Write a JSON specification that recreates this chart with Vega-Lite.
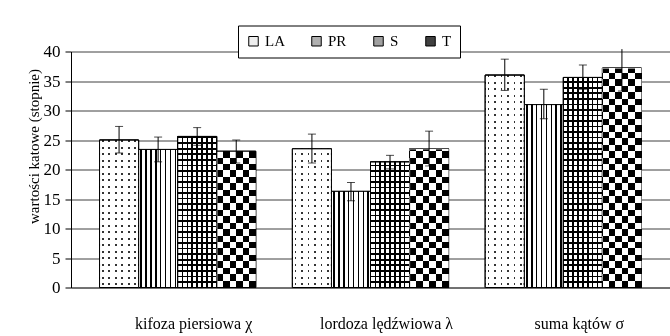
{
  "$schema": "https://vega.github.io/schema/vega-lite/v6.json",
  "width": 599,
  "height": 236,
  "autosize": {"type": "none"},
  "padding": {"left": 71, "top": 51.5, "right": 0, "bottom": 48.5},
  "background": "white",
  "config": {
    "view": {"stroke": null},
    "font": "Liberation Serif",
    "axis": {"labelFont": "Liberation Serif", "titleFont": "Liberation Serif", "labelColor": "black", "titleColor": "black"},
    "legend": {"labelFont": "Liberation Serif"}
  },
  "resolve": {"axis": {"y": "independent"}},
  "params": [
    {"name": "laStops", "value": [
      {"offset":0.0104,"color":"#fff"},{"offset":0.0104,"color":"transparent"},{"offset":0.0172,"color":"transparent"},{"offset":0.0172,"color":"#fff"},
      {"offset":0.0379,"color":"#fff"},{"offset":0.0379,"color":"transparent"},{"offset":0.0447,"color":"transparent"},{"offset":0.0447,"color":"#fff"},
      {"offset":0.0655,"color":"#fff"},{"offset":0.0655,"color":"transparent"},{"offset":0.0723,"color":"transparent"},{"offset":0.0723,"color":"#fff"},
      {"offset":0.0930,"color":"#fff"},{"offset":0.0930,"color":"transparent"},{"offset":0.0998,"color":"transparent"},{"offset":0.0998,"color":"#fff"},
      {"offset":0.1206,"color":"#fff"},{"offset":0.1206,"color":"transparent"},{"offset":0.1273,"color":"transparent"},{"offset":0.1273,"color":"#fff"},
      {"offset":0.1481,"color":"#fff"},{"offset":0.1481,"color":"transparent"},{"offset":0.1549,"color":"transparent"},{"offset":0.1549,"color":"#fff"},
      {"offset":0.1756,"color":"#fff"},{"offset":0.1756,"color":"transparent"},{"offset":0.1824,"color":"transparent"},{"offset":0.1824,"color":"#fff"},
      {"offset":0.2032,"color":"#fff"},{"offset":0.2032,"color":"transparent"},{"offset":0.2100,"color":"transparent"},{"offset":0.2100,"color":"#fff"},
      {"offset":0.2307,"color":"#fff"},{"offset":0.2307,"color":"transparent"},{"offset":0.2375,"color":"transparent"},{"offset":0.2375,"color":"#fff"},
      {"offset":0.2583,"color":"#fff"},{"offset":0.2583,"color":"transparent"},{"offset":0.2650,"color":"transparent"},{"offset":0.2650,"color":"#fff"},
      {"offset":0.2858,"color":"#fff"},{"offset":0.2858,"color":"transparent"},{"offset":0.2926,"color":"transparent"},{"offset":0.2926,"color":"#fff"},
      {"offset":0.3133,"color":"#fff"},{"offset":0.3133,"color":"transparent"},{"offset":0.3201,"color":"transparent"},{"offset":0.3201,"color":"#fff"},
      {"offset":0.3409,"color":"#fff"},{"offset":0.3409,"color":"transparent"},{"offset":0.3477,"color":"transparent"},{"offset":0.3477,"color":"#fff"},
      {"offset":0.3684,"color":"#fff"},{"offset":0.3684,"color":"transparent"},{"offset":0.3752,"color":"transparent"},{"offset":0.3752,"color":"#fff"},
      {"offset":0.3960,"color":"#fff"},{"offset":0.3960,"color":"transparent"},{"offset":0.4027,"color":"transparent"},{"offset":0.4027,"color":"#fff"},
      {"offset":0.4235,"color":"#fff"},{"offset":0.4235,"color":"transparent"},{"offset":0.4303,"color":"transparent"},{"offset":0.4303,"color":"#fff"},
      {"offset":0.4510,"color":"#fff"},{"offset":0.4510,"color":"transparent"},{"offset":0.4578,"color":"transparent"},{"offset":0.4578,"color":"#fff"},
      {"offset":0.4786,"color":"#fff"},{"offset":0.4786,"color":"transparent"},{"offset":0.4854,"color":"transparent"},{"offset":0.4854,"color":"#fff"},
      {"offset":0.5061,"color":"#fff"},{"offset":0.5061,"color":"transparent"},{"offset":0.5129,"color":"transparent"},{"offset":0.5129,"color":"#fff"},
      {"offset":0.5337,"color":"#fff"},{"offset":0.5337,"color":"transparent"},{"offset":0.5405,"color":"transparent"},{"offset":0.5405,"color":"#fff"},
      {"offset":0.5612,"color":"#fff"},{"offset":0.5612,"color":"transparent"},{"offset":0.5680,"color":"transparent"},{"offset":0.5680,"color":"#fff"},
      {"offset":0.5888,"color":"#fff"},{"offset":0.5888,"color":"transparent"},{"offset":0.5955,"color":"transparent"},{"offset":0.5955,"color":"#fff"},
      {"offset":0.6163,"color":"#fff"},{"offset":0.6163,"color":"transparent"},{"offset":0.6231,"color":"transparent"},{"offset":0.6231,"color":"#fff"},
      {"offset":0.6438,"color":"#fff"},{"offset":0.6438,"color":"transparent"},{"offset":0.6506,"color":"transparent"},{"offset":0.6506,"color":"#fff"},
      {"offset":0.6714,"color":"#fff"},{"offset":0.6714,"color":"transparent"},{"offset":0.6782,"color":"transparent"},{"offset":0.6782,"color":"#fff"},
      {"offset":0.6989,"color":"#fff"},{"offset":0.6989,"color":"transparent"},{"offset":0.7057,"color":"transparent"},{"offset":0.7057,"color":"#fff"},
      {"offset":0.7265,"color":"#fff"},{"offset":0.7265,"color":"transparent"},{"offset":0.7332,"color":"transparent"},{"offset":0.7332,"color":"#fff"},
      {"offset":0.7540,"color":"#fff"},{"offset":0.7540,"color":"transparent"},{"offset":0.7608,"color":"transparent"},{"offset":0.7608,"color":"#fff"},
      {"offset":0.7815,"color":"#fff"},{"offset":0.7815,"color":"transparent"},{"offset":0.7883,"color":"transparent"},{"offset":0.7883,"color":"#fff"},
      {"offset":0.8091,"color":"#fff"},{"offset":0.8091,"color":"transparent"},{"offset":0.8159,"color":"transparent"},{"offset":0.8159,"color":"#fff"},
      {"offset":0.8366,"color":"#fff"},{"offset":0.8366,"color":"transparent"},{"offset":0.8434,"color":"transparent"},{"offset":0.8434,"color":"#fff"},
      {"offset":0.8642,"color":"#fff"},{"offset":0.8642,"color":"transparent"},{"offset":0.8710,"color":"transparent"},{"offset":0.8710,"color":"#fff"},
      {"offset":0.8917,"color":"#fff"},{"offset":0.8917,"color":"transparent"},{"offset":0.8985,"color":"transparent"},{"offset":0.8985,"color":"#fff"},
      {"offset":0.9192,"color":"#fff"},{"offset":0.9192,"color":"transparent"},{"offset":0.9260,"color":"transparent"},{"offset":0.9260,"color":"#fff"},
      {"offset":0.9468,"color":"#fff"},{"offset":0.9468,"color":"transparent"},{"offset":0.9536,"color":"transparent"},{"offset":0.9536,"color":"#fff"},
      {"offset":0.9743,"color":"#fff"},{"offset":0.9743,"color":"transparent"},{"offset":0.9811,"color":"transparent"},{"offset":0.9811,"color":"#fff"}
    ]},
    {"name": "sStops", "value": [
      {"offset":0.0201,"color":"transparent"},{"offset":0.0201,"color":"#000"},{"offset":0.0269,"color":"#000"},{"offset":0.0269,"color":"transparent"},
      {"offset":0.0436,"color":"transparent"},{"offset":0.0436,"color":"#000"},{"offset":0.0504,"color":"#000"},{"offset":0.0504,"color":"transparent"},
      {"offset":0.0672,"color":"transparent"},{"offset":0.0672,"color":"#000"},{"offset":0.0739,"color":"#000"},{"offset":0.0739,"color":"transparent"},
      {"offset":0.0907,"color":"transparent"},{"offset":0.0907,"color":"#000"},{"offset":0.0975,"color":"#000"},{"offset":0.0975,"color":"transparent"},
      {"offset":0.1142,"color":"transparent"},{"offset":0.1142,"color":"#000"},{"offset":0.1210,"color":"#000"},{"offset":0.1210,"color":"transparent"},
      {"offset":0.1377,"color":"transparent"},{"offset":0.1377,"color":"#000"},{"offset":0.1445,"color":"#000"},{"offset":0.1445,"color":"transparent"},
      {"offset":0.1612,"color":"transparent"},{"offset":0.1612,"color":"#000"},{"offset":0.1680,"color":"#000"},{"offset":0.1680,"color":"transparent"},
      {"offset":0.1847,"color":"transparent"},{"offset":0.1847,"color":"#000"},{"offset":0.1915,"color":"#000"},{"offset":0.1915,"color":"transparent"},
      {"offset":0.2083,"color":"transparent"},{"offset":0.2083,"color":"#000"},{"offset":0.2150,"color":"#000"},{"offset":0.2150,"color":"transparent"},
      {"offset":0.2318,"color":"transparent"},{"offset":0.2318,"color":"#000"},{"offset":0.2385,"color":"#000"},{"offset":0.2385,"color":"transparent"},
      {"offset":0.2553,"color":"transparent"},{"offset":0.2553,"color":"#000"},{"offset":0.2621,"color":"#000"},{"offset":0.2621,"color":"transparent"},
      {"offset":0.2788,"color":"transparent"},{"offset":0.2788,"color":"#000"},{"offset":0.2856,"color":"#000"},{"offset":0.2856,"color":"transparent"},
      {"offset":0.3023,"color":"transparent"},{"offset":0.3023,"color":"#000"},{"offset":0.3091,"color":"#000"},{"offset":0.3091,"color":"transparent"},
      {"offset":0.3259,"color":"transparent"},{"offset":0.3259,"color":"#000"},{"offset":0.3326,"color":"#000"},{"offset":0.3326,"color":"transparent"},
      {"offset":0.3494,"color":"transparent"},{"offset":0.3494,"color":"#000"},{"offset":0.3561,"color":"#000"},{"offset":0.3561,"color":"transparent"},
      {"offset":0.3729,"color":"transparent"},{"offset":0.3729,"color":"#000"},{"offset":0.3797,"color":"#000"},{"offset":0.3797,"color":"transparent"},
      {"offset":0.3964,"color":"transparent"},{"offset":0.3964,"color":"#000"},{"offset":0.4032,"color":"#000"},{"offset":0.4032,"color":"transparent"},
      {"offset":0.4199,"color":"transparent"},{"offset":0.4199,"color":"#000"},{"offset":0.4267,"color":"#000"},{"offset":0.4267,"color":"transparent"},
      {"offset":0.4434,"color":"transparent"},{"offset":0.4434,"color":"#000"},{"offset":0.4502,"color":"#000"},{"offset":0.4502,"color":"transparent"},
      {"offset":0.4670,"color":"transparent"},{"offset":0.4670,"color":"#000"},{"offset":0.4737,"color":"#000"},{"offset":0.4737,"color":"transparent"},
      {"offset":0.4905,"color":"transparent"},{"offset":0.4905,"color":"#000"},{"offset":0.4972,"color":"#000"},{"offset":0.4972,"color":"transparent"},
      {"offset":0.5140,"color":"transparent"},{"offset":0.5140,"color":"#000"},{"offset":0.5208,"color":"#000"},{"offset":0.5208,"color":"transparent"},
      {"offset":0.5375,"color":"transparent"},{"offset":0.5375,"color":"#000"},{"offset":0.5443,"color":"#000"},{"offset":0.5443,"color":"transparent"},
      {"offset":0.5610,"color":"transparent"},{"offset":0.5610,"color":"#000"},{"offset":0.5678,"color":"#000"},{"offset":0.5678,"color":"transparent"},
      {"offset":0.5845,"color":"transparent"},{"offset":0.5845,"color":"#000"},{"offset":0.5913,"color":"#000"},{"offset":0.5913,"color":"transparent"},
      {"offset":0.6081,"color":"transparent"},{"offset":0.6081,"color":"#000"},{"offset":0.6148,"color":"#000"},{"offset":0.6148,"color":"transparent"},
      {"offset":0.6316,"color":"transparent"},{"offset":0.6316,"color":"#000"},{"offset":0.6383,"color":"#000"},{"offset":0.6383,"color":"transparent"},
      {"offset":0.6551,"color":"transparent"},{"offset":0.6551,"color":"#000"},{"offset":0.6619,"color":"#000"},{"offset":0.6619,"color":"transparent"},
      {"offset":0.6786,"color":"transparent"},{"offset":0.6786,"color":"#000"},{"offset":0.6854,"color":"#000"},{"offset":0.6854,"color":"transparent"},
      {"offset":0.7021,"color":"transparent"},{"offset":0.7021,"color":"#000"},{"offset":0.7089,"color":"#000"},{"offset":0.7089,"color":"transparent"},
      {"offset":0.7256,"color":"transparent"},{"offset":0.7256,"color":"#000"},{"offset":0.7324,"color":"#000"},{"offset":0.7324,"color":"transparent"},
      {"offset":0.7492,"color":"transparent"},{"offset":0.7492,"color":"#000"},{"offset":0.7559,"color":"#000"},{"offset":0.7559,"color":"transparent"},
      {"offset":0.7727,"color":"transparent"},{"offset":0.7727,"color":"#000"},{"offset":0.7794,"color":"#000"},{"offset":0.7794,"color":"transparent"},
      {"offset":0.7962,"color":"transparent"},{"offset":0.7962,"color":"#000"},{"offset":0.8030,"color":"#000"},{"offset":0.8030,"color":"transparent"},
      {"offset":0.8197,"color":"transparent"},{"offset":0.8197,"color":"#000"},{"offset":0.8265,"color":"#000"},{"offset":0.8265,"color":"transparent"},
      {"offset":0.8432,"color":"transparent"},{"offset":0.8432,"color":"#000"},{"offset":0.8500,"color":"#000"},{"offset":0.8500,"color":"transparent"},
      {"offset":0.8667,"color":"transparent"},{"offset":0.8667,"color":"#000"},{"offset":0.8735,"color":"#000"},{"offset":0.8735,"color":"transparent"},
      {"offset":0.8903,"color":"transparent"},{"offset":0.8903,"color":"#000"},{"offset":0.8970,"color":"#000"},{"offset":0.8970,"color":"transparent"},
      {"offset":0.9138,"color":"transparent"},{"offset":0.9138,"color":"#000"},{"offset":0.9205,"color":"#000"},{"offset":0.9205,"color":"transparent"},
      {"offset":0.9373,"color":"transparent"},{"offset":0.9373,"color":"#000"},{"offset":0.9441,"color":"#000"},{"offset":0.9441,"color":"transparent"},
      {"offset":0.9608,"color":"transparent"},{"offset":0.9608,"color":"#000"},{"offset":0.9676,"color":"#000"},{"offset":0.9676,"color":"transparent"},
      {"offset":0.9843,"color":"transparent"},{"offset":0.9843,"color":"#000"},{"offset":0.9911,"color":"#000"},{"offset":0.9911,"color":"transparent"}
    ]},
    {"name": "tStops", "value": [
      {"offset":0.0275,"color":"transparent"},{"offset":0.0275,"color":"#fff"},{"offset":0.0551,"color":"#fff"},{"offset":0.0551,"color":"transparent"},
      {"offset":0.0826,"color":"transparent"},{"offset":0.0826,"color":"#fff"},{"offset":0.1102,"color":"#fff"},{"offset":0.1102,"color":"transparent"},
      {"offset":0.1377,"color":"transparent"},{"offset":0.1377,"color":"#fff"},{"offset":0.1653,"color":"#fff"},{"offset":0.1653,"color":"transparent"},
      {"offset":0.1928,"color":"transparent"},{"offset":0.1928,"color":"#fff"},{"offset":0.2203,"color":"#fff"},{"offset":0.2203,"color":"transparent"},
      {"offset":0.2479,"color":"transparent"},{"offset":0.2479,"color":"#fff"},{"offset":0.2754,"color":"#fff"},{"offset":0.2754,"color":"transparent"},
      {"offset":0.3030,"color":"transparent"},{"offset":0.3030,"color":"#fff"},{"offset":0.3305,"color":"#fff"},{"offset":0.3305,"color":"transparent"},
      {"offset":0.3581,"color":"transparent"},{"offset":0.3581,"color":"#fff"},{"offset":0.3856,"color":"#fff"},{"offset":0.3856,"color":"transparent"},
      {"offset":0.4131,"color":"transparent"},{"offset":0.4131,"color":"#fff"},{"offset":0.4407,"color":"#fff"},{"offset":0.4407,"color":"transparent"},
      {"offset":0.4682,"color":"transparent"},{"offset":0.4682,"color":"#fff"},{"offset":0.4958,"color":"#fff"},{"offset":0.4958,"color":"transparent"},
      {"offset":0.5233,"color":"transparent"},{"offset":0.5233,"color":"#fff"},{"offset":0.5508,"color":"#fff"},{"offset":0.5508,"color":"transparent"},
      {"offset":0.5784,"color":"transparent"},{"offset":0.5784,"color":"#fff"},{"offset":0.6059,"color":"#fff"},{"offset":0.6059,"color":"transparent"},
      {"offset":0.6335,"color":"transparent"},{"offset":0.6335,"color":"#fff"},{"offset":0.6610,"color":"#fff"},{"offset":0.6610,"color":"transparent"},
      {"offset":0.6886,"color":"transparent"},{"offset":0.6886,"color":"#fff"},{"offset":0.7161,"color":"#fff"},{"offset":0.7161,"color":"transparent"},
      {"offset":0.7436,"color":"transparent"},{"offset":0.7436,"color":"#fff"},{"offset":0.7712,"color":"#fff"},{"offset":0.7712,"color":"transparent"},
      {"offset":0.7987,"color":"transparent"},{"offset":0.7987,"color":"#fff"},{"offset":0.8263,"color":"#fff"},{"offset":0.8263,"color":"transparent"},
      {"offset":0.8538,"color":"transparent"},{"offset":0.8538,"color":"#fff"},{"offset":0.8814,"color":"#fff"},{"offset":0.8814,"color":"transparent"},
      {"offset":0.9089,"color":"transparent"},{"offset":0.9089,"color":"#fff"},{"offset":0.9364,"color":"#fff"},{"offset":0.9364,"color":"transparent"},
      {"offset":0.9640,"color":"transparent"},{"offset":0.9640,"color":"#fff"},{"offset":0.9915,"color":"#fff"},{"offset":0.9915,"color":"transparent"}
    ]}
  ],
  "data": {"values": [
    {"cat": "kifoza piersiowa  χ", "s": "LA", "v": 25.0, "lo": 22.8, "hi": 27.3},
    {"cat": "kifoza piersiowa  χ", "s": "PR", "v": 23.4, "lo": 21.3, "hi": 25.5},
    {"cat": "kifoza piersiowa  χ", "s": "S", "v": 25.6, "lo": 24.1, "hi": 27.1},
    {"cat": "kifoza piersiowa  χ", "s": "T", "v": 23.1, "lo": 21.1, "hi": 25.0},
    {"cat": "lordoza lędźwiowa λ", "s": "LA", "v": 23.5, "lo": 21.1, "hi": 26.0},
    {"cat": "lordoza lędźwiowa λ", "s": "PR", "v": 16.3, "lo": 14.7, "hi": 17.8},
    {"cat": "lordoza lędźwiowa λ", "s": "S", "v": 21.3, "lo": 20.1, "hi": 22.4},
    {"cat": "lordoza lędźwiowa λ", "s": "T", "v": 23.5, "lo": 20.6, "hi": 26.5},
    {"cat": "suma kątów  σ", "s": "LA", "v": 36.0, "lo": 33.4, "hi": 38.7},
    {"cat": "suma kątów  σ", "s": "PR", "v": 31.0, "lo": 28.6, "hi": 33.6},
    {"cat": "suma kątów  σ", "s": "S", "v": 35.6, "lo": 33.6, "hi": 37.7},
    {"cat": "suma kątów  σ", "s": "T", "v": 37.2, "lo": 33.3, "hi": 40.4}
  ]},
  "encoding": {
    "x": {
      "field": "cat", "type": "nominal", "sort": null, "title": null,
      "scale": {"paddingInner": 0.19, "paddingOuter": 0.148},
      "axis": {"labelAngle": 0, "ticks": false, "domainColor": "#444", "labelFontSize": 16, "labelPadding": 28, "labelOffset": 16, "labelLimit": 300}
    },
    "xOffset": {"field": "s", "type": "nominal", "scale": {"domain": ["LA", "PR", "S", "T"], "paddingInner": 0, "paddingOuter": 0}}
  },
  "layer": [
    {
      "mark": {"type": "bar", "stroke": "black", "strokeWidth": 1},
      "encoding": {
        "y": {
          "field": "v", "type": "quantitative", "stack": null,
          "scale": {"domain": [0, 40], "nice": false},
          "axis": {
            "orient": "left",
            "values": [0, 5, 10, 15, 20, 25, 30, 35, 40], "tickCount": 12, "labelOverlap": false,
            "title": "wartości katowe (stopnie)",
            "titleFontSize": 15, "titleFontWeight": "normal",
            "titleX": -38, "titleY": 94.5, "titleAngle": 270, "titleAlign": "center", "titleBaseline": "middle",
            "domainColor": "black", "tickColor": "black", "tickSize": 6,
            "gridColor": "#404040", "labelFontSize": 17, "labelPadding": 5
          }
        },
        "color": {
          "field": "s", "type": "nominal", "title": null,
          "scale": {"domain": ["LA", "PR", "S", "T"], "range": ["#eeeeee", "#b0b0b0", "#a0a0a0", "#404040"]},
          "legend": {
            "orient": "none", "legendX": 167, "legendY": -26, "direction": "horizontal",
            "fillColor": "white", "strokeColor": "black", "padding": 8,
            "columnPadding": 24, "symbolType": "square", "symbolSize": 90,
            "symbolStrokeColor": "black", "symbolStrokeWidth": 1,
            "labelFontSize": 15, "labelColor": "black", "labelOffset": 4
          }
        }
      }
    },
    {
      "transform": [{"filter": "datum.s === 'LA'"}],
      "mark": {"type": "bar", "stroke": "black", "strokeWidth": 1,
        "fill": {"gradient": "linear", "x1": 0, "y1": 0, "x2": 1, "y2": 0, "stops": [
          {"offset":0.0627,"color":"#fff"},{"offset":0.0627,"color":"#333"},{"offset":0.1037,"color":"#333"},{"offset":0.1037,"color":"#fff"},
          {"offset":0.2292,"color":"#fff"},{"offset":0.2292,"color":"#333"},{"offset":0.2702,"color":"#333"},{"offset":0.2702,"color":"#fff"},
          {"offset":0.3956,"color":"#fff"},{"offset":0.3956,"color":"#333"},{"offset":0.4366,"color":"#333"},{"offset":0.4366,"color":"#fff"},
          {"offset":0.5621,"color":"#fff"},{"offset":0.5621,"color":"#333"},{"offset":0.6031,"color":"#333"},{"offset":0.6031,"color":"#fff"},
          {"offset":0.7286,"color":"#fff"},{"offset":0.7286,"color":"#333"},{"offset":0.7695,"color":"#333"},{"offset":0.7695,"color":"#fff"},
          {"offset":0.8950,"color":"#fff"},{"offset":0.8950,"color":"#333"},{"offset":0.9360,"color":"#333"},{"offset":0.9360,"color":"#fff"}
        ]}},
      "encoding": {"y": {"field": "v", "type": "quantitative", "axis": null}}
    },
    {
      "transform": [{"filter": "datum.s === 'PR'"}],
      "mark": {"type": "bar", "stroke": "black", "strokeWidth": 1,
        "fill": {"gradient": "linear", "x1": 0, "y1": 0, "x2": 1, "y2": 0, "stops": [
          {"offset":0.0435,"color":"#fff"},{"offset":0.0435,"color":"#000"},{"offset":0.0845,"color":"#000"},{"offset":0.0845,"color":"#fff"},
          {"offset":0.1690,"color":"#fff"},{"offset":0.1690,"color":"#000"},{"offset":0.2100,"color":"#000"},{"offset":0.2100,"color":"#fff"},
          {"offset":0.2945,"color":"#fff"},{"offset":0.2945,"color":"#000"},{"offset":0.3355,"color":"#000"},{"offset":0.3355,"color":"#fff"},
          {"offset":0.4200,"color":"#fff"},{"offset":0.4200,"color":"#000"},{"offset":0.4609,"color":"#000"},{"offset":0.4609,"color":"#fff"},
          {"offset":0.5455,"color":"#fff"},{"offset":0.5455,"color":"#000"},{"offset":0.5864,"color":"#000"},{"offset":0.5864,"color":"#fff"},
          {"offset":0.6709,"color":"#fff"},{"offset":0.6709,"color":"#000"},{"offset":0.7119,"color":"#000"},{"offset":0.7119,"color":"#fff"},
          {"offset":0.7964,"color":"#fff"},{"offset":0.7964,"color":"#000"},{"offset":0.8374,"color":"#000"},{"offset":0.8374,"color":"#fff"},
          {"offset":0.9219,"color":"#fff"},{"offset":0.9219,"color":"#000"},{"offset":0.9629,"color":"#000"},{"offset":0.9629,"color":"#fff"}
        ]}},
      "encoding": {"y": {"field": "v", "type": "quantitative", "axis": null}}
    },
    {
      "transform": [{"filter": "datum.s === 'S'"}],
      "mark": {"type": "bar", "stroke": "black", "strokeWidth": 1,
        "fill": {"gradient": "linear", "x1": 0, "y1": 0, "x2": 1, "y2": 0, "stops": [
          {"offset":0.1045,"color":"#fff"},{"offset":0.1045,"color":"#000"},{"offset":0.1455,"color":"#000"},{"offset":0.1455,"color":"#fff"},
          {"offset":0.2294,"color":"#fff"},{"offset":0.2294,"color":"#000"},{"offset":0.2704,"color":"#000"},{"offset":0.2704,"color":"#fff"},
          {"offset":0.3544,"color":"#fff"},{"offset":0.3544,"color":"#000"},{"offset":0.3954,"color":"#000"},{"offset":0.3954,"color":"#fff"},
          {"offset":0.4794,"color":"#fff"},{"offset":0.4794,"color":"#000"},{"offset":0.5204,"color":"#000"},{"offset":0.5204,"color":"#fff"},
          {"offset":0.6044,"color":"#fff"},{"offset":0.6044,"color":"#000"},{"offset":0.6453,"color":"#000"},{"offset":0.6453,"color":"#fff"},
          {"offset":0.7293,"color":"#fff"},{"offset":0.7293,"color":"#000"},{"offset":0.7703,"color":"#000"},{"offset":0.7703,"color":"#fff"},
          {"offset":0.8543,"color":"#fff"},{"offset":0.8543,"color":"#000"},{"offset":0.8953,"color":"#000"},{"offset":0.8953,"color":"#fff"}
        ]}},
      "encoding": {"y": {"field": "v", "type": "quantitative", "axis": null}}
    },
    {
      "transform": [{"filter": "datum.s === 'T'"}],
      "mark": {"type": "bar", "stroke": "black", "strokeWidth": 1,
        "fill": {"gradient": "linear", "x1": 0, "y1": 0, "x2": 1, "y2": 0, "stops": [
          {"offset":0,"color":"#fff"},{"offset":0.1667,"color":"#fff"},{"offset":0.1667,"color":"#000"},{"offset":0.3333,"color":"#000"},
          {"offset":0.3333,"color":"#fff"},{"offset":0.5,"color":"#fff"},{"offset":0.5,"color":"#000"},{"offset":0.6667,"color":"#000"},
          {"offset":0.6667,"color":"#fff"},{"offset":0.8333,"color":"#fff"},{"offset":0.8333,"color":"#000"},{"offset":1,"color":"#000"}
        ]}},
      "encoding": {"y": {"field": "v", "type": "quantitative", "axis": null}}
    },
    {
      "transform": [{"filter": "datum.s === 'LA'"}],
      "mark": {"type": "bar", "stroke": "black", "strokeWidth": 1,
        "fill": {"expr": "{gradient: 'linear', x1: 0, y1: 1, x2: 0, y2: 1 - 40 / datum.v, stops: laStops}"}},
      "encoding": {"y": {"field": "v", "type": "quantitative", "axis": null}}
    },
    {
      "transform": [{"filter": "datum.s === 'S'"}],
      "mark": {"type": "bar", "stroke": "black", "strokeWidth": 1,
        "fill": {"expr": "{gradient: 'linear', x1: 0, y1: 1, x2: 0, y2: 1 - 40 / datum.v, stops: sStops}"}},
      "encoding": {"y": {"field": "v", "type": "quantitative", "axis": null}}
    },
    {
      "transform": [{"filter": "datum.s === 'T'"}],
      "mark": {"type": "bar", "blend": "difference",
        "fill": {"expr": "{gradient: 'linear', x1: 0, y1: 1, x2: 0, y2: 1 - 40 / datum.v, stops: tStops}"}},
      "encoding": {"y": {"field": "v", "type": "quantitative", "axis": null}}
    },
    {
      "mark": {"type": "rule", "color": "black", "strokeWidth": 1},
      "encoding": {"y": {"field": "lo", "type": "quantitative", "axis": null}, "y2": {"field": "hi"}}
    },
    {
      "mark": {"type": "tick", "orient": "horizontal", "color": "black", "size": 8, "thickness": 1},
      "encoding": {"y": {"field": "lo", "type": "quantitative", "axis": null}}
    },
    {
      "transform": [{"filter": "datum.hi <= 40"}],
      "mark": {"type": "tick", "orient": "horizontal", "color": "black", "size": 8, "thickness": 1},
      "encoding": {"y": {"field": "hi", "type": "quantitative", "axis": null}}
    }
  ]
}
